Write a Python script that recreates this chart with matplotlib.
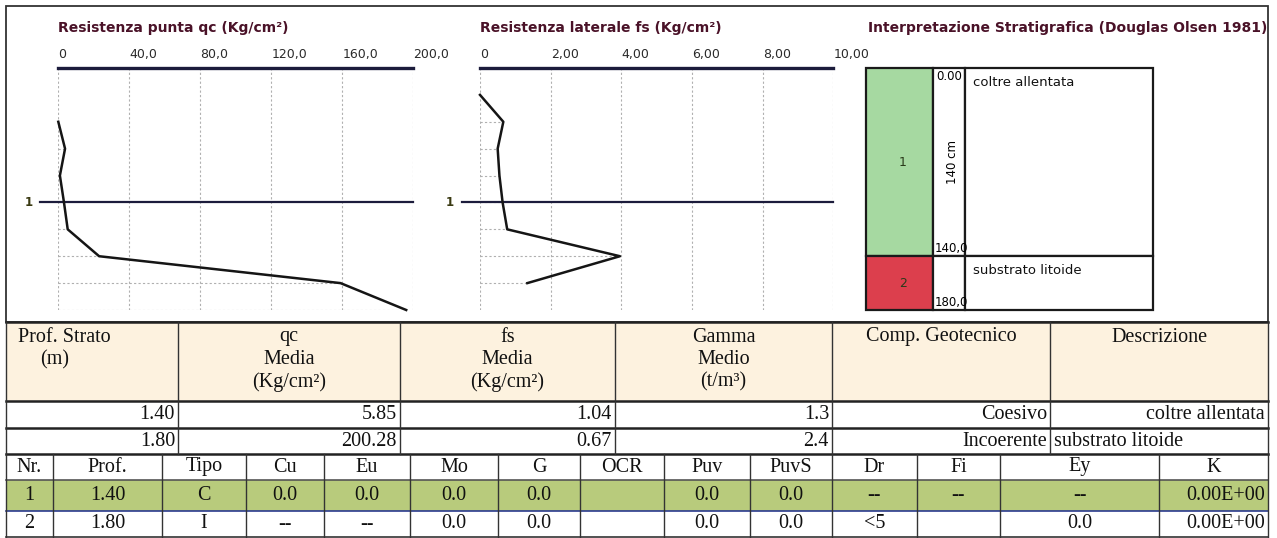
import matplotlib
matplotlib.use("Agg")
import matplotlib.pyplot as plt
from matplotlib.patches import Rectangle

# --- data ---
qc_depth = [40, 60, 80, 100, 120, 140, 160, 180]          # cm
qc_val = [0.0, 3.8, 0.9, 3.2, 5.3, 23.0, 159.0, 196.0]     # Kg/cm2
fs_depth = [20, 40, 60, 80, 100, 120, 140, 160]
fs_val = [0.0, 0.66, 0.50, 0.55, 0.64, 0.77, 3.96, 1.34]

qc_ticks = [0, 40, 80, 120, 160, 200]
qc_ticklabels = ["0", "40,0", "80,0", "120,0", "160,0", "200,0"]
fs_ticks = [0, 2, 4, 6, 8, 10]
fs_ticklabels = ["0", "2,00", "4,00", "6,00", "8,00", "10,00"]

marker_depth = [100]
marker_label = ["1"]

layer_top = [0, 140]
layer_bot = [140, 180]
layer_num = ["1", "2"]
layer_color = ["#a6d9a1", "#dc3f4d"]
layer_desc = ["coltre allentata", "substrato litoide"]
layer_top_lab = ["0.00", ""]
layer_bot_lab = ["140,0", "180,0"]

t1_header = [["Prof. Strato", "(m)"], ["qc", "Media", "(Kg/cm²)"],
             ["fs", "Media", "(Kg/cm²)"], ["Gamma", "Medio", "(t/m³)"],
             ["Comp. Geotecnico"], ["Descrizione"]]
strato_prof = ["1.40", "1.80"]
qc_media = ["5.85", "200.28"]
fs_media = ["1.04", "0.67"]
gamma_medio = ["1.3", "2.4"]
comp_geo = ["Coesivo", "Incoerente"]
descr = ["coltre allentata", "substrato litoide"]
descr_align = ["right", "left"]

t2_header = ["Nr.", "Prof.", "Tipo", "Cu", "Eu", "Mo", "G", "OCR",
             "Puv", "PuvS", "Dr", "Fi", "Ey", "K"]
t2_row1 = ["1", "1.40", "C", "0.0", "0.0", "0.0", "0.0", "", "0.0", "0.0",
           "--", "--", "--", "0.00E+00"]
t2_row2 = ["2", "1.80", "I", "--", "--", "0.0", "0.0", "", "0.0", "0.0",
           "<5", "", "0.0", "0.00E+00"]

W, H = 1277, 538
fig = plt.figure(figsize=(W / 100, H / 100), dpi=100)
bg = fig.add_axes([0, 0, 1, 1])
bg.set_xlim(0, W)
bg.set_ylim(H, 0)
bg.axis("off")

maroon = "#4a1228"
navy = "#1c1c3c"
grid = "#b0b0b0"


def px_axes(x0, y0, x1, y1):
    ax = fig.add_axes([x0 / W, 1 - y1 / H, (x1 - x0) / W, (y1 - y0) / H])
    ax.set_axis_off()
    return ax


def profile(x0, x1, depth, val, xmax, ticks, labels, title):
    ax = px_axes(x0, 68, x1, 310)
    ax.set_xlim(0, xmax)
    ax.set_ylim(180, 0)
    for t, lab in zip(ticks, labels):
        ax.axvline(t, color=grid, lw=0.8, ls=(0, (2, 2)), zorder=1)
        ax.annotate(lab, xy=(t, 0), xytext=(0, 10),
                    textcoords="offset pixels", ha="left", va="baseline",
                    fontsize=9, color="#2a2a2a")
    for d, v in zip(depth, val):
        ax.plot([0, v], [d, d], color=grid, lw=0.8, ls=(0, (2, 2)), zorder=1)
    ax.axhline(0, color=navy, lw=2.4, zorder=3, clip_on=False)
    ext = 18 / (x1 - x0) * xmax
    for d, lab in zip(marker_depth, marker_label):
        ax.plot([-ext, xmax], [d, d], color=navy, lw=1.6, zorder=3, clip_on=False)
        ax.annotate(lab, xy=(0, d), xytext=(-30, 0), textcoords="offset pixels",
                    ha="center", va="center", fontsize=8.5, weight="bold",
                    color="#3a3a12")
    ax.plot(val, depth, color="#151515", lw=1.8, zorder=4, clip_on=False)
    ax.annotate(title, xy=(0, 0), xytext=(0, 36), textcoords="offset pixels",
                ha="left", va="baseline", fontsize=10, weight="bold", color=maroon)
    return ax


# outer frame of the graphic part
bg.add_patch(Rectangle((6, 6), 1262, 316, fill=False, ec="#333333", lw=1.3))

profile(58.3, 413.3, qc_depth, qc_val, 200, qc_ticks, qc_ticklabels,
        "Resistenza punta qc (Kg/cm²)")
profile(480, 833.3, fs_depth, fs_val, 10, fs_ticks, fs_ticklabels,
        "Resistenza laterale fs (Kg/cm²)")

# stratigraphic column
sax = px_axes(866, 68, 1153, 310)
sax.set_xlim(0, 287)
sax.set_ylim(180, 0)
edges = [0, 67, 99, 287]
for i in range(len(layer_top)):
    top, bot = layer_top[i], layer_bot[i]
    fills = [layer_color[i], "white", "white"]
    for j in range(3):
        sax.add_patch(Rectangle((edges[j], top), edges[j + 1] - edges[j], bot - top,
                                fc=fills[j], ec="#1a1a1a", lw=1.6, clip_on=False))
    mid = (top + bot) / 2
    sax.text(edges[0] + 37, mid, layer_num[i], ha="center", va="center",
             fontsize=9, color="#2a3a1a")
    sax.annotate(layer_desc[i], xy=(edges[2], top), xytext=(8, -8),
                 textcoords="offset pixels", ha="left", va="top", fontsize=9.5,
                 color="#111111")
    if layer_top_lab[i]:
        sax.annotate(layer_top_lab[i], xy=(edges[1], top), xytext=(3, -2),
                     textcoords="offset pixels", ha="left", va="top", fontsize=8.5)
    sax.annotate(layer_bot_lab[i], xy=(edges[1], bot), xytext=(2, 1),
                 textcoords="offset pixels", ha="left", va="bottom", fontsize=8.5)
    if bot - top > 60:
        sax.text((edges[1] + edges[2]) / 2 + 4, mid, f"{bot - top:.0f} cm",
                 rotation=90, ha="center", va="center", fontsize=8.5)
sax.annotate("Interpretazione Stratigrafica (Douglas Olsen 1981)", xy=(0, 0),
             xytext=(2, 36), textcoords="offset pixels", ha="left", va="baseline",
             fontsize=10, weight="bold", color=maroon)

# --- table 1 ---
serif = "Liberation Serif"
fs_tab = 14.5
t1_cols = [6, 178, 400, 615, 832, 1050, 1268]
t1_rows = [322, 401, 428, 454]
bg.add_patch(Rectangle((t1_cols[0], t1_rows[0]), t1_cols[-1] - t1_cols[0],
                       t1_rows[1] - t1_rows[0], fc="#fdf2df", ec="none"))
for y in t1_rows:
    bg.plot([t1_cols[0], t1_cols[-1]], [y, y], color="#222222", lw=1.8)
for x in t1_cols:
    bg.plot([x, x], [t1_rows[0], t1_rows[-1]], color="#333333", lw=1.0)
for i, lines in enumerate(t1_header):
    cx = (t1_cols[i] + t1_cols[i + 1]) / 2
    for k, line in enumerate(lines):
        x, al = cx, "center"
        if i == 0:
            x, al = (18, "left") if k == 0 else (55, "center")
        bg.text(x, 337 + 22.5 * k, line, ha=al, va="center",
                fontsize=fs_tab, family=serif, color="#111111")
t1_data = [strato_prof, qc_media, fs_media, gamma_medio, comp_geo, descr]
for r in range(2):
    cy = (t1_rows[r + 1] + t1_rows[r + 2]) / 2
    for c, col in enumerate(t1_data):
        al = descr_align[r] if c == 5 else "right"
        x = t1_cols[c + 1] - 3 if al == "right" else t1_cols[c] + 4
        bg.text(x, cy, col[r], ha=al, va="center", fontsize=fs_tab,
                family=serif, color="#111111")

# --- table 2 ---
t2_cols = [6, 53, 162, 246, 324, 410, 498, 580, 664, 750, 832, 917, 1000, 1159, 1268]
t2_rows = [454, 480, 511, 537]
bg.add_patch(Rectangle((t2_cols[0], t2_rows[1]), t2_cols[-1] - t2_cols[0],
                       t2_rows[2] - t2_rows[1], fc="#b8cb7c", ec="none"))
bg.plot([t2_cols[0], t2_cols[-1]], [t2_rows[1]] * 2, color="#555555", lw=1.2)
bg.plot([t2_cols[0], t2_cols[-1]], [t2_rows[2]] * 2, color="#2b3b8f", lw=1.2)
bg.plot([t2_cols[0], t2_cols[-1]], [t2_rows[3]] * 2, color="#333333", lw=1.2)
for x in t2_cols:
    bg.plot([x, x], [t2_rows[0], t2_rows[-1]], color="#333333", lw=1.0)
for r, row in enumerate([t2_header, t2_row1, t2_row2]):
    cy = (t2_rows[r] + t2_rows[r + 1]) / 2
    for c, val in enumerate(row):
        if c == len(row) - 1 and r > 0:
            x, al = t2_cols[c + 1] - 3, "right"
        else:
            x, al = (t2_cols[c] + t2_cols[c + 1]) / 2, "center"
        bg.text(x, cy, val, ha=al, va="center", fontsize=fs_tab, family=serif,
                color="#111111", weight="bold" if val == "--" else "normal")

fig.savefig("out.png", dpi=100)
